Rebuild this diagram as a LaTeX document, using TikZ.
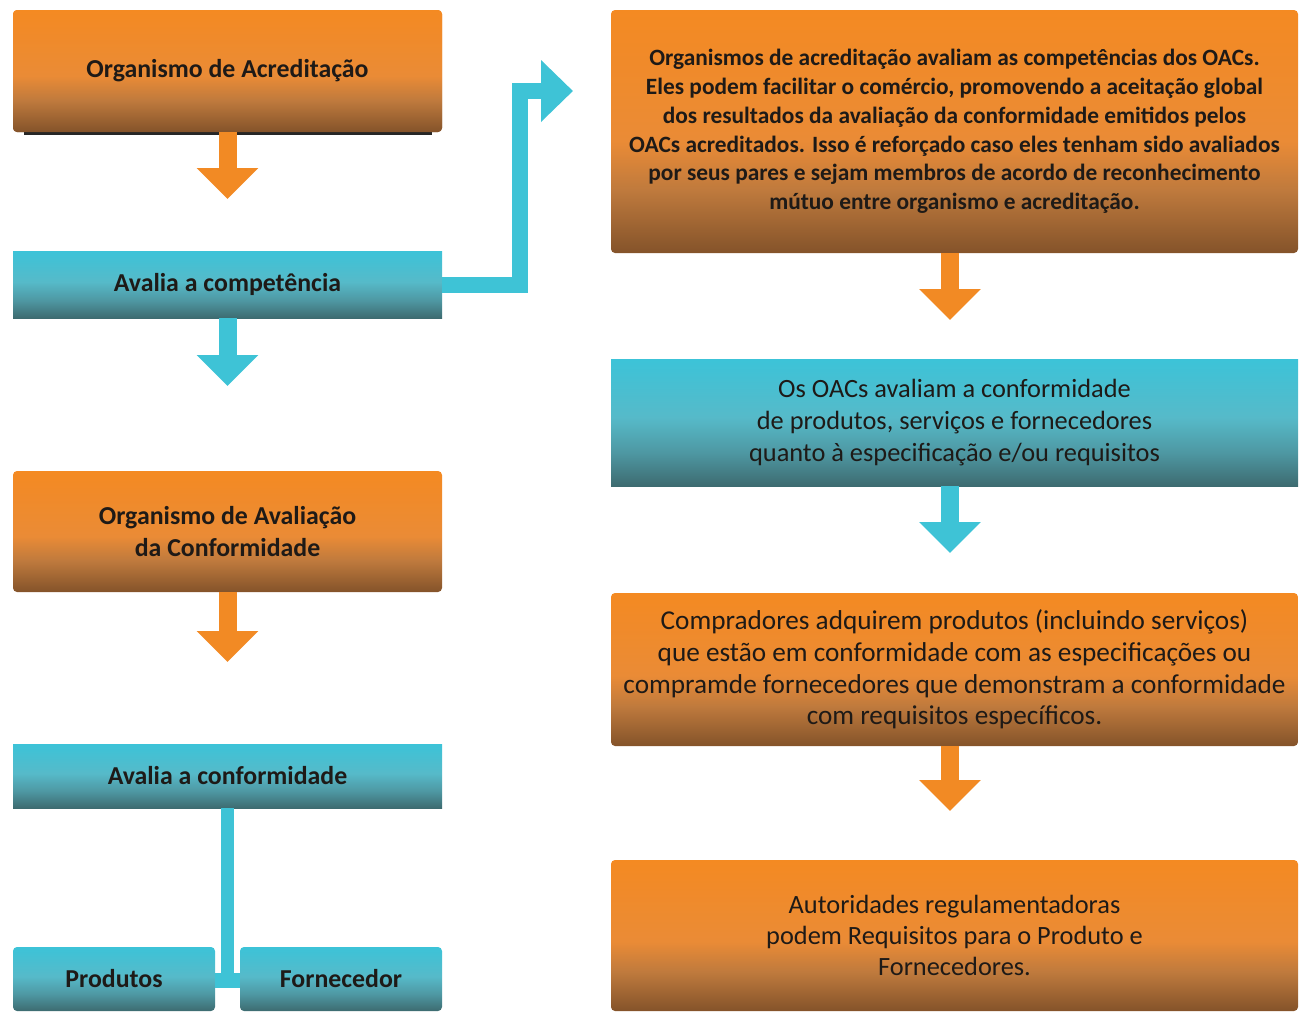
\documentclass[tikz,border=0pt]{standalone}
\usepackage{fontspec}
\setmainfont{Carlito}
\usetikzlibrary{arrows.meta}
\definecolor{otop}{HTML}{F48A22}
\definecolor{olight}{HTML}{EA8B36}
\definecolor{omid}{HTML}{BF7A3D}
\definecolor{obot}{HTML}{84532A}
\definecolor{ttop}{HTML}{3CC3D8}
\definecolor{tlight}{HTML}{56BAC9}
\definecolor{tmid}{HTML}{4E97A2}
\definecolor{tbot}{HTML}{3D6B70}
\definecolor{oarrowc}{HTML}{F28A24}
\definecolor{tarrowc}{HTML}{3EC3D6}
\definecolor{txt}{HTML}{1E1A17}
\pgfdeclareverticalshading{orgrad}{100bp}{color(0bp)=(obot); color(25bp)=(obot); color(38bp)=(omid); color(48bp)=(olight); color(75bp)=(otop); color(100bp)=(otop)}
\pgfdeclareverticalshading{tlgrad}{100bp}{color(0bp)=(tbot); color(25bp)=(tbot); color(38bp)=(tmid); color(52bp)=(tlight); color(75bp)=(ttop); color(100bp)=(ttop)}
\tikzset{
  boxbase/.style={inner sep=0pt, outer sep=0pt, align=center, text=txt},
  obox/.style={boxbase, shading=orgrad, rounded corners=0.08cm},
  tbox/.style={boxbase, shading=tlgrad},
  leftw/.style={minimum width=8.58cm},
  rightw/.style={minimum width=13.74cm},
  lfont/.style={font=\bfseries\fontsize{14.7}{18}\selectfont},
  oarr/.style={draw=oarrowc, line width=0.36cm, -{Triangle[width=1.2cm,length=0.62cm]}},
  tarr/.style={draw=tarrowc, line width=0.36cm, -{Triangle[width=1.2cm,length=0.62cm]}},
  tline/.style={draw=tarrowc},
}
\begin{document}
\begin{tikzpicture}
\useasboundingbox (0,0) rectangle (26.06,-20.22);
% left column
\node[obox, leftw, lfont, minimum height=2.44cm] (A) at (4.55,-1.42) {Organismo de Acreditação};
\fill[black!85] ([xshift=0.22cm,yshift=0.02cm]A.south west) rectangle ([xshift=-0.2cm,yshift=-0.06cm]A.south east);
\node[obox, leftw, lfont, minimum height=2.44cm] (A) at (4.55,-1.42) {Organismo de Acreditação};
\node[tbox, leftw, lfont, minimum height=1.34cm] (B) at (4.55,-5.69) {Avalia a competência};
\node[obox, leftw, lfont, minimum height=2.42cm] (C) at (4.55,-10.63) {Organismo de Avaliação\\da Conformidade};
\node[tbox, leftw, lfont, minimum height=1.28cm] (D) at (4.55,-15.52) {Avalia a conformidade};
\node[tbox, rounded corners=0.08cm, lfont, minimum width=4.04cm, minimum height=1.28cm] (P) at (2.28,-19.58) {Produtos};
\node[tbox, rounded corners=0.08cm, lfont, minimum width=4.04cm, minimum height=1.28cm] (F) at (6.82,-19.58) {Fornecedor};
% right column
\node[obox, rightw, minimum height=4.86cm, font=\bfseries\fontsize{13.3}{16.4}\selectfont] (R1) at (19.09,-2.63)
  {Organismos de acreditação avaliam as competências dos OACs.\\
   Eles podem facilitar o comércio, promovendo a aceitação global\\
   dos resultados da avaliação da conformidade emitidos pelos\\
   OACs acreditados. Isso é reforçado caso eles tenham sido avaliados\\
   por seus pares e sejam membros de acordo de reconhecimento\\
   mútuo entre organismo e acreditação.};
\node[tbox, rightw, minimum height=2.54cm, font=\fontsize{15}{18.1}\selectfont] (R2) at (19.09,-8.45)
  {Os OACs avaliam a conformidade\\
   de produtos, serviços e fornecedores\\
   quanto à especificação e/ou requisitos};
\node[obox, rightw, minimum height=3.06cm, font=\fontsize{15.5}{18.1}\selectfont] (R3) at (19.09,-13.39)
  {Compradores adquirem produtos (incluindo serviços)\\
   que estão em conformidade com as especificações ou\\
   compramde fornecedores que demonstram a conformidade\\
   com requisitos específicos.};
\node[obox, rightw, minimum height=3.02cm, font=\fontsize{15}{17.6}\selectfont] (R4) at (19.09,-18.71)
  {Autoridades regulamentadoras\\
   podem Requisitos para o Produto e\\
   Fornecedores.};
% arrows left
\draw[oarr, shorten >=1.04cm] (A.south) -- (B.north);
\draw[tarr, shorten >=1.70cm] (B.south) -- (C.north);
\draw[oarr, shorten >=1.64cm] (C.south) -- (D.north);
% arrows right
\draw[oarr, shorten >=0.78cm] ([xshift=-0.09cm]R1.south) -- ([xshift=-0.09cm]R2.north);
\draw[tarr, shorten >=0.80cm] ([xshift=-0.09cm]R2.south) -- ([xshift=-0.09cm]R3.north);
\draw[oarr, shorten >=0.98cm] ([xshift=-0.09cm]R3.south) -- ([xshift=-0.09cm]R4.north);
% elbow connector
\coordinate (elb) at (10.4,-1.82);
\draw[tline, line width=0.32cm, line join=miter, -{Triangle[width=1.2cm,length=0.64cm]}, shorten >=0.76cm] (B.east) -| (elb) -- (R1.west |- elb);
% T connector
\coordinate (tj) at (4.55,-19.6);
\draw[tline, line width=0.26cm] (D.south) -- (tj);
\draw[tline, line width=0.30cm] (P.east |- tj) -- (F.west |- tj);
\end{tikzpicture}
\end{document}
